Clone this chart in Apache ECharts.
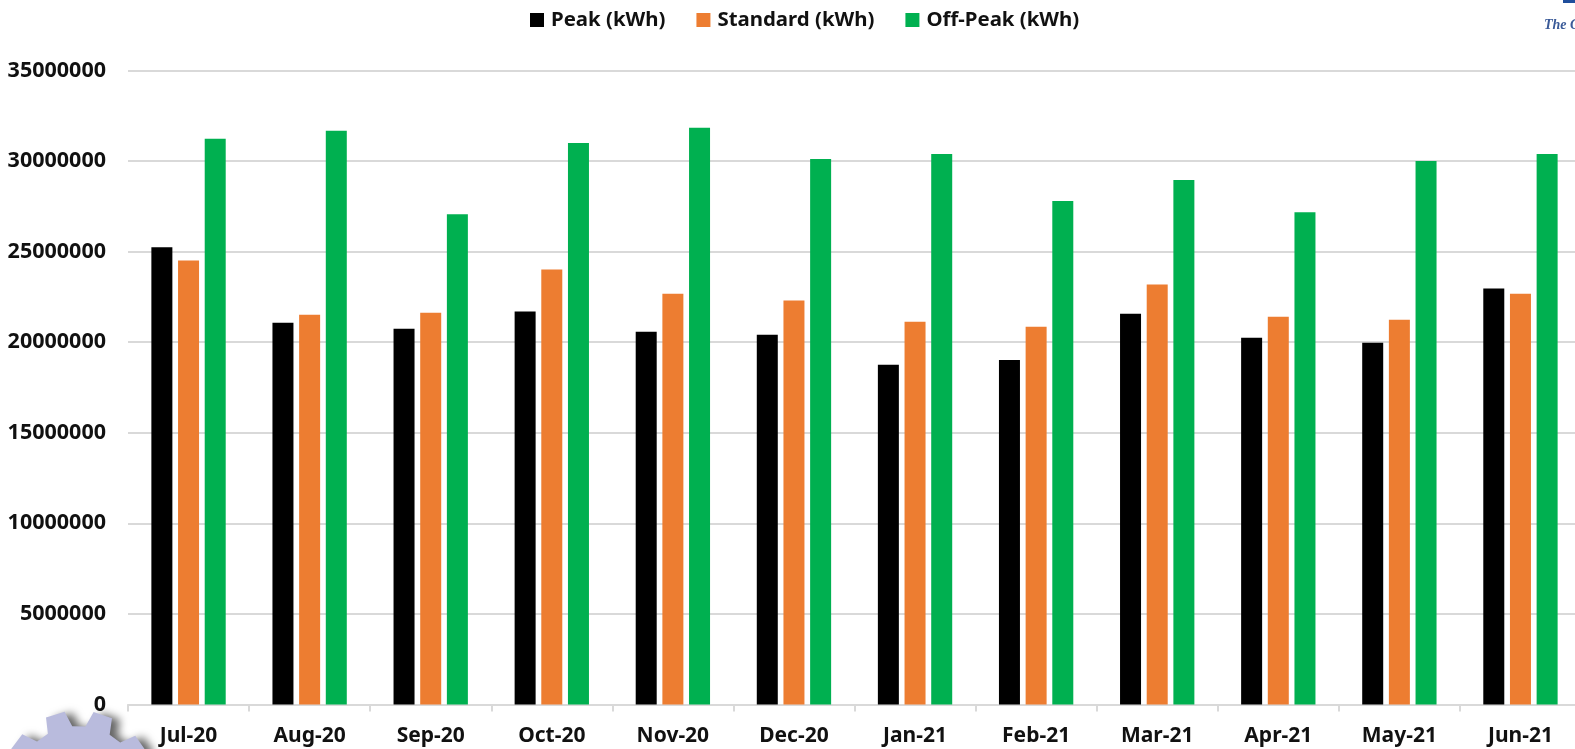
<!DOCTYPE html>
<html>
<head>
<meta charset="utf-8">
<title>Monthly energy</title>
<script src="https://cdn.jsdelivr.net/npm/echarts@6/dist/echarts.min.js"></script>
<style>
html, body { margin: 0; padding: 0; background: #fff; overflow: hidden; }
#chart { width: 1575px; height: 749px; }
</style>
</head>
<body>
<div id="chart"></div>
<script>
var months = ['Jul-20', 'Aug-20', 'Sep-20', 'Oct-20', 'Nov-20', 'Dec-20', 'Jan-21', 'Feb-21', 'Mar-21', 'Apr-21', 'May-21', 'Jun-21'];
var peak = [25240000, 21080000, 20740000, 21690000, 20580000, 20410000, 18750000, 19020000, 21570000, 20240000, 19970000, 22960000];
var standard = [24510000, 21520000, 21630000, 24020000, 22680000, 22300000, 21130000, 20850000, 23180000, 21410000, 21240000, 22680000];
var offPeak = [31230000, 31670000, 27070000, 31000000, 31840000, 30120000, 30390000, 27790000, 28950000, 27180000, 30000000, 30390000];

var fontName = '"Noto Sans", sans-serif';

// gear outline for the decoration in the bottom left corner
function gearPoints(cx, cy, outer, inner, teeth) {
    var pts = [];
    var step = Math.PI * 2 / teeth;
    for (var i = 0; i < teeth; i++) {
        var a = i * step - Math.PI / 2 - 0.3;
        pts.push([cx + inner * Math.cos(a - step * 0.33), cy + inner * Math.sin(a - step * 0.33)]);
        pts.push([cx + outer * Math.cos(a - step * 0.2), cy + outer * Math.sin(a - step * 0.2)]);
        pts.push([cx + outer * Math.cos(a + step * 0.2), cy + outer * Math.sin(a + step * 0.2)]);
        pts.push([cx + inner * Math.cos(a + step * 0.33), cy + inner * Math.sin(a + step * 0.33)]);
    }
    return pts;
}

var myChart = echarts.init(document.getElementById('chart'), null, { renderer: 'canvas' });

myChart.setOption({
    animation: false,
    backgroundColor: '#fff',
    color: ['#000000', '#ed7d31', '#00b050'],
    legend: {
        left: 525,
        top: 5,
        itemWidth: 14,
        itemHeight: 14,
        itemGap: 31,
        icon: 'rect',
        textStyle: { fontFamily: fontName, fontWeight: 'bold', fontSize: 20.4, color: '#111', padding: [0, 0, 0, 2] },
        itemStyle: { borderWidth: 0 },
        data: ['Peak (kWh)', 'Standard (kWh)', 'Off-Peak (kWh)']
    },
    grid: { left: 128, width: 1453, top: 70.5, height: 634, outerBoundsMode: 'none' },
    xAxis: [{
        type: 'category',
        data: months,
        axisLine: { lineStyle: { color: '#d9d9d9', width: 2 } },
        axisTick: { show: true, length: 7, lineStyle: { color: '#d9d9d9', width: 2 } },
        axisLabel: { interval: 0, margin: 21, fontFamily: fontName, fontWeight: 'bold', fontSize: 21, color: '#111' }
    }],
    yAxis: [{
        type: 'value',
        min: 0,
        max: 35000000,
        interval: 5000000,
        axisLine: { show: false },
        axisTick: { show: false },
        splitLine: { lineStyle: { color: '#d9d9d9', width: 2 } },
        axisLabel: {
            margin: 22,
            fontFamily: fontName,
            fontWeight: 'bold',
            fontSize: 21.5,
            color: '#111',
            formatter: function (v) { return String(v); }
        }
    }],
    series: [
        { name: 'Peak (kWh)', type: 'bar', data: peak, barWidth: 21, barGap: '27%' },
        { name: 'Standard (kWh)', type: 'bar', data: standard, barWidth: 21, barGap: '27%' },
        { name: 'Off-Peak (kWh)', type: 'bar', data: offPeak, barWidth: 21, barGap: '27%' }
    ],
    graphic: [
        {
            type: 'polygon',
            silent: true,
            z: -1,
            shape: { points: gearPoints(78, 788, 77.5, 62, 10) },
            style: { fill: '#b9bbdd', shadowColor: 'rgba(0,0,0,0.6)', shadowBlur: 9, shadowOffsetX: 8, shadowOffsetY: 1 }
        },
        {
            type: 'rect',
            silent: true,
            shape: { x: 1563, y: 0, width: 12, height: 3 },
            style: { fill: '#1f4e9c' }
        },
        {
            type: 'text',
            silent: true,
            style: {
                x: 1544,
                y: 18,
                text: 'The G',
                fill: '#3a5a98',
                font: 'italic bold 14px "Liberation Serif", serif'
            }
        }
    ]
});
</script>
</body>
</html>
